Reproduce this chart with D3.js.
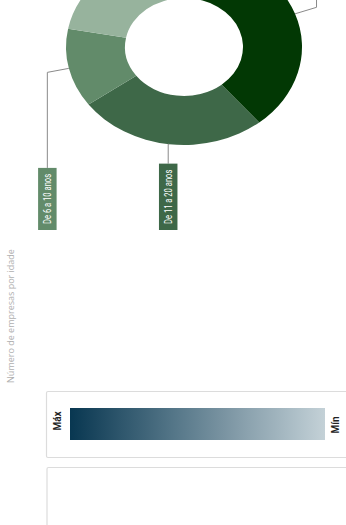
<!DOCTYPE html>
<html>
<head>
<meta charset="utf-8">
<script src="https://cdn.jsdelivr.net/npm/d3@7"></script>
<style>
  html, body { margin: 0; padding: 0; background: #fff; overflow: hidden; }
  svg { display: block; }
</style>
</head>
<body>
<svg id="chart" width="346" height="525"></svg>
<script>
// ---- data ----
const categories = ["Mais de 20 anos", "De 11 a 20 anos", "De 6 a 10 anos", "Até 5 anos"];
const values = [39, 26, 13, 22];
const sliceColors = ["#023804", "#3e6848", "#628b6a", "#97b39d"];
const chartTitle = "Número de empresas por idade";
const legendLabels = ["Máx", "Mín"];
const legendColors = ["#083751", "#c4d1d7"];

// ---- layout ----
const svg = d3.select("#chart");
const W = 346, H = 525;
const cx = 184, cy = 47;
const rOuter = 118, rInner = 59, squash = 0.83;

const pie = d3.pie().sort(null).value(d => d).startAngle(0).endAngle(2 * Math.PI);
const arcs = pie(values);
const arc = d3.arc().innerRadius(rInner).outerRadius(rOuter);

const gDonut = svg.append("g")
  .attr("transform", `translate(${cx},${cy}) scale(1,${squash})`);
gDonut.selectAll("path")
  .data(arcs)
  .join("path")
  .attr("d", arc)
  .attr("fill", (d, i) => sliceColors[i]);

// leader lines + label boxes
const boxBottom = 230, boxW = 18.5, fontSize = 10, squeeze = 0.76;
const gLab = svg.append("g");
arcs.forEach((d, i) => {
  const mid = (d.startAngle + d.endAngle) / 2;
  const s = Math.sin(mid), c = Math.cos(mid);
  const px = cx + rOuter * s, py = cy - rOuter * c * squash;
  const down = c < 0;
  const ex = Math.abs(s) > 0.5 ? px + Math.sign(s) * 21.5 : px - 1;
  const ey = Math.abs(s) > 0.5 ? py + (down ? 4 : -6.5) : py;

  if (!down) {
    // label box lies above the visible area: only its leader line shows
    gLab.append("path")
      .attr("d", d3.line()([[px, py], [ex, ey], [ex, -2]]))
      .attr("fill", "none")
      .attr("stroke", "#8a8a8a")
      .attr("stroke-width", 1);
    return;
  }

  const t = gLab.append("text")
    .attr("font-family", "Roboto, 'Open Sans', sans-serif")
    .attr("font-size", fontSize)
    .attr("fill", "#fff")
    .text(categories[i]);
  const natural = t.node().getComputedTextLength();
  const len = natural * squeeze;
  const boxH = len + 12;
  const by1 = boxBottom - boxH;
  const by2 = boxBottom;

  gLab.append("path")
    .attr("d", d3.line()([[px, py], [ex, ey], [ex, by1]]))
    .attr("fill", "none")
    .attr("stroke", "#8a8a8a")
    .attr("stroke-width", 1);

  gLab.append("rect")
    .attr("x", ex - boxW / 2)
    .attr("y", by1)
    .attr("width", boxW)
    .attr("height", boxH)
    .attr("fill", sliceColors[i]);

  t.attr("textLength", len)
    .attr("lengthAdjust", "spacingAndGlyphs")
    .attr("text-anchor", "middle")
    .attr("transform", `translate(${ex + 3.5},${(by1 + by2) / 2}) rotate(-90)`);
  t.raise();
});

// title
svg.append("text")
  .attr("transform", `translate(14,316) rotate(-90)`)
  .attr("text-anchor", "middle")
  .attr("font-family", "'Open Sans', sans-serif")
  .attr("font-size", 9)
  .attr("fill", "#b0b0b0")
  .text(chartTitle);

// legend box
svg.append("rect")
  .attr("x", 46.5).attr("y", 391.5)
  .attr("width", 320).attr("height", 66)
  .attr("rx", 1.5)
  .attr("fill", "#fff")
  .attr("stroke", "#dcdcdc")
  .attr("stroke-width", 1.2);

const defs = svg.append("defs");
const grad = defs.append("linearGradient").attr("id", "lg")
  .attr("x1", "0%").attr("x2", "100%").attr("y1", "0%").attr("y2", "0%");
const interp = d3.interpolateRgb(legendColors[0], legendColors[1]);
d3.range(0, 1.0001, 0.1).forEach(tt => {
  grad.append("stop").attr("offset", `${tt * 100}%`).attr("stop-color", interp(tt));
});

const lx = d3.scaleLinear().domain([0, 1]).range([70, 325]);
svg.append("rect")
  .attr("x", lx(0)).attr("y", 408)
  .attr("width", lx(1) - lx(0)).attr("height", 32)
  .attr("fill", "url(#lg)");

svg.append("text")
  .attr("transform", `translate(${lx(0) - 9},421) rotate(-90)`)
  .attr("text-anchor", "middle")
  .attr("font-family", "Roboto, sans-serif")
  .attr("font-weight", "bold")
  .attr("font-size", 10)
  .attr("fill", "#222")
  .text(legendLabels[0]);
svg.append("text")
  .attr("transform", `translate(${lx(1) + 14},425) rotate(-90)`)
  .attr("text-anchor", "middle")
  .attr("font-family", "Roboto, sans-serif")
  .attr("font-weight", "bold")
  .attr("font-size", 10)
  .attr("fill", "#222")
  .text(legendLabels[1]);

// second (empty) box
svg.append("rect")
  .attr("x", 47).attr("y", 467.5)
  .attr("width", 320).attr("height", 80)
  .attr("rx", 1.5)
  .attr("fill", "#fff")
  .attr("stroke", "#dcdcdc")
  .attr("stroke-width", 1.2);
</script>
</body>
</html>
